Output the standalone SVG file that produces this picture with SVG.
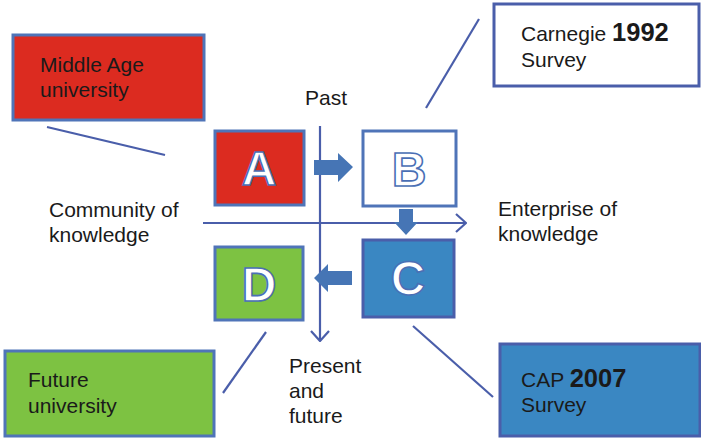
<svg xmlns="http://www.w3.org/2000/svg" width="701" height="438" viewBox="0 0 701 438">
  <style>
    .lbl { font-family: "Liberation Sans", Arial, sans-serif; font-size: 21px; fill: #1a1a1a; }
    .yr { font-weight: bold; font-size: 25.5px; }
    .letter { font-family: "Liberation Sans", Arial, sans-serif; font-weight: bold; font-size: 48px; fill: #ffffff; stroke: #4a6fb5; stroke-width: 1.6; text-anchor: middle; }
    .box { stroke: #4f74b8; stroke-width: 3; }
    .axis { stroke: #4a5eaa; stroke-width: 2.2; fill: none; }
    .lead { stroke: #4a5eaa; stroke-width: 2.2; }
    .block { fill: #4675b5; }
  </style>
  <defs>
    <marker id="open" viewBox="0 0 12 20" refX="11" refY="10" markerWidth="12" markerHeight="20" markerUnits="userSpaceOnUse" orient="auto">
      <path d="M1,1 L11,10 L1,19" fill="none" stroke="#4a5eaa" stroke-width="2.2"/>
    </marker>
  </defs>

  <rect width="701" height="438" fill="#ffffff"/>

  <g id="connectors">
    <!-- axes -->
    <line class="axis" x1="320" y1="126" x2="320" y2="341" marker-end="url(#open)"/>
    <line class="axis" x1="203" y1="223" x2="466" y2="223" marker-end="url(#open)"/>
    <!-- leader lines -->
    <line class="lead" x1="47" y1="127" x2="165" y2="155"/>
    <line class="lead" x1="479" y1="19" x2="426" y2="108"/>
    <line class="lead" x1="413" y1="326" x2="493" y2="397"/>
    <line class="lead" x1="266" y1="332" x2="223" y2="393"/>
    <!-- block arrows -->
    <polygon class="block" points="314,160 338,160 338,153 353,167 338,182 338,175 314,175"/>
    <polygon class="block" points="399,209 413,209 413,222 418,222 406,235 394,222 399,222"/>
    <polygon class="block" points="352,271 328,271 328,264 314,278 328,292 328,285 352,285"/>
  </g>

  <g id="node-a">
    <rect class="box" x="215" y="131" width="89" height="74" fill="#dc2b20"/>
    <text class="letter" x="259" y="185">A</text>
  </g>
  <g id="node-b">
    <rect class="box" x="363" y="131" width="93" height="75" fill="#ffffff"/>
    <text class="letter" x="409" y="186">B</text>
  </g>
  <g id="node-c">
    <rect x="363" y="240" width="91" height="77" fill="#3a87c2" stroke="#4a5eaa" stroke-width="3"/>
    <text class="letter" x="408" y="295">C</text>
  </g>
  <g id="node-d">
    <rect class="box" x="215" y="247" width="88" height="73" fill="#7dc242"/>
    <text class="letter" x="259" y="301">D</text>
  </g>

  <g id="middle-age">
    <rect class="box" x="13" y="35" width="191" height="85" fill="#dc2b20"/>
    <text class="lbl" x="40" y="72">Middle Age</text>
    <text class="lbl" x="40" y="97">university</text>
  </g>
  <g id="carnegie">
    <rect x="494" y="4" width="205" height="82" fill="#ffffff" stroke="#4a5eaa" stroke-width="3"/>
    <text class="lbl" x="521" y="41">Carnegie <tspan class="yr">1992</tspan></text>
    <text class="lbl" x="521" y="67">Survey</text>
  </g>
  <g id="cap">
    <rect x="500" y="344" width="200" height="92" fill="#3a87c2" stroke="#4a5eaa" stroke-width="3"/>
    <text class="lbl" x="521" y="387">CAP <tspan class="yr">2007</tspan></text>
    <text class="lbl" x="521" y="412">Survey</text>
  </g>
  <g id="future">
    <rect class="box" x="5" y="351" width="209" height="85" fill="#7dc242"/>
    <text class="lbl" x="28" y="387">Future</text>
    <text class="lbl" x="28" y="413">university</text>
  </g>

  <g id="labels">
    <text class="lbl" x="305" y="105">Past</text>
    <text class="lbl" x="49" y="217">Community of</text>
    <text class="lbl" x="49" y="242">knowledge</text>
    <text class="lbl" x="498" y="216">Enterprise of</text>
    <text class="lbl" x="498" y="241">knowledge</text>
    <text class="lbl" x="289" y="373">Present</text>
    <text class="lbl" x="289" y="398">and</text>
    <text class="lbl" x="289" y="423">future</text>
  </g>
</svg>
